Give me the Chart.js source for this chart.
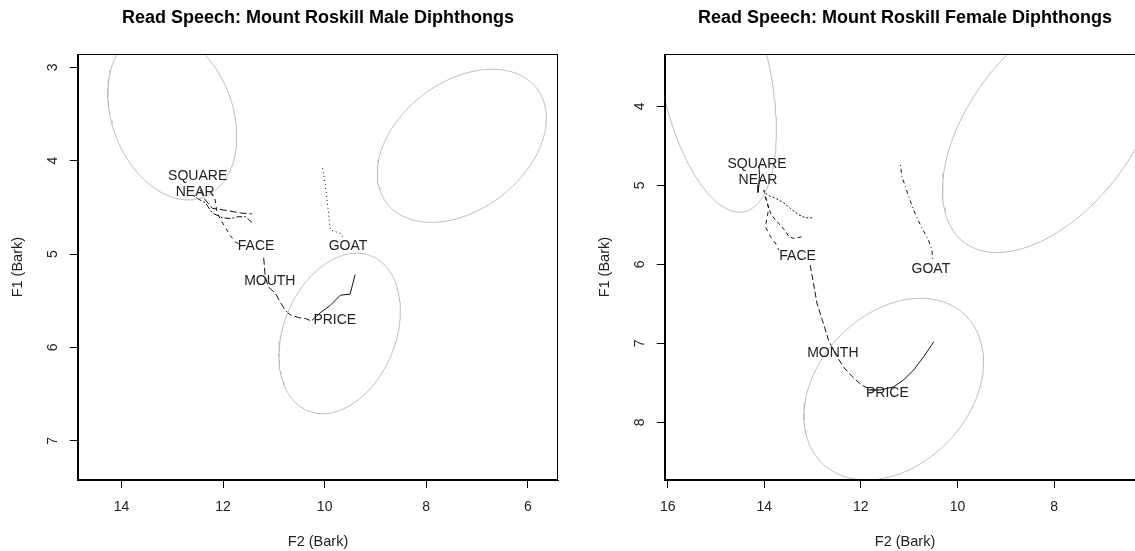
<!DOCTYPE html>
<html>
<head>
<meta charset="utf-8">
<script src="https://cdn.jsdelivr.net/npm/chart.js@4.4.0/dist/chart.umd.min.js"></script>
<style>
    html, body { margin: 0; padding: 0; background: #fff; }
    body { width: 1135px; height: 551px; overflow: hidden; position: relative; }
    .panel { position: absolute; top: 0; width: 600px; height: 551px; }
    #malePanel { left: 0; }
    #femalePanel { left: 587px; }
</style>
</head>
<body>
<div class="panel" id="malePanel"><canvas id="maleChart" width="600" height="551"></canvas></div>
<div class="panel" id="femalePanel"><canvas id="femaleChart" width="600" height="551"></canvas></div>
<script>
const FONT = "'Liberation Sans', Arial, sans-serif";

// axis ticks and ranges (both axes run backwards, like a vowel chart)
const maleF2Ticks = [14, 12, 10, 8, 6];
const maleF1Ticks = [3, 4, 5, 6, 7];
const maleF2Range = [5.40, 14.86];
const maleF1Range = [2.86, 7.42];

const femaleF2Ticks = [16, 14, 12, 10, 8];
const femaleF1Ticks = [4, 5, 6, 7, 8];
const femaleF2Range = [6.11, 16.06];
const femaleF1Range = [3.34, 8.73];

// vowel labels
const maleVowels = ["SQUARE", "NEAR", "FACE", "GOAT", "MOUTH", "PRICE"];
const maleLabelF2 = [12.50, 12.55, 11.35, 9.54, 11.08, 9.80];
const maleLabelF1 = [4.17, 4.34, 4.92, 4.92, 5.29, 5.71];

const femaleVowels = ["SQUARE", "NEAR", "FACE", "GOAT", "MONTH", "PRICE"];
const femaleLabelF2 = [14.15, 14.13, 13.31, 10.55, 12.58, 11.45];
const femaleLabelF1 = [4.73, 4.93, 5.90, 6.06, 7.13, 7.63];

// male trajectories [F2, F1]
const maleSquare = [[12.45, 4.31], [12.35, 4.42], [12.21, 4.51], [11.96, 4.53], [11.66, 4.56], [11.43, 4.57]];
const maleNear = [[12.59, 4.37], [12.49, 4.41], [12.35, 4.45], [12.21, 4.56], [12.02, 4.61], [11.85, 4.62],
    [11.72, 4.60], [11.56, 4.60], [11.41, 4.67]];
const maleFace = [[12.16, 4.41], [12.12, 4.55], [12.06, 4.62], [11.96, 4.71], [11.86, 4.80], [11.76, 4.87], [11.66, 4.90]];
const maleGoat = [[10.04, 4.08], [9.99, 4.24], [9.96, 4.39], [9.93, 4.53], [9.89, 4.74], [9.79, 4.76],
    [9.69, 4.78], [9.63, 4.83]];
const maleMouth = [[11.20, 5.04], [11.17, 5.24], [11.11, 5.35], [10.97, 5.42], [10.88, 5.51], [10.78, 5.60],
    [10.68, 5.65], [10.52, 5.68], [10.38, 5.69], [10.29, 5.71]];
const malePrice = [[10.25, 5.71], [10.09, 5.63], [9.89, 5.55], [9.69, 5.44], [9.50, 5.43], [9.40, 5.22]];

// female trajectories [F2, F1]
const femaleNear = [[14.11, 4.75], [14.10, 4.87], [14.11, 4.99], [14.13, 5.09]];
const femaleSquare = [[14.02, 5.06], [13.94, 5.12], [13.87, 5.14], [13.77, 5.16], [13.60, 5.22], [13.46, 5.29],
    [13.29, 5.37], [13.15, 5.41], [13.01, 5.41]];
const femaleCure = [[14.01, 5.06], [13.94, 5.22], [13.87, 5.35], [13.77, 5.44], [13.67, 5.50], [13.56, 5.58],
    [13.49, 5.65], [13.39, 5.67], [13.22, 5.65]];
const femaleFace = [[13.98, 5.14], [13.91, 5.29], [13.94, 5.41], [13.98, 5.52], [13.87, 5.65], [13.77, 5.73], [13.70, 5.82]];
const femaleMouth = [[13.05, 6.01], [12.98, 6.24], [12.91, 6.49], [12.80, 6.70], [12.67, 6.96], [12.53, 7.13],
    [12.36, 7.30], [12.18, 7.42], [11.98, 7.53], [11.77, 7.59], [11.60, 7.59]];
const femalePrice = [[11.87, 7.59], [11.60, 7.59], [11.32, 7.55], [11.11, 7.46], [10.91, 7.34], [10.70, 7.17], [10.49, 6.98]];
const femaleGoat = [[11.18, 4.74], [11.15, 4.89], [11.08, 5.01], [11.01, 5.14], [10.91, 5.31], [10.80, 5.46],
    [10.70, 5.58], [10.60, 5.69], [10.53, 5.82], [10.51, 5.94]];

// ellipses: [centre F2, centre F1, half width F2, half height F1, correlation]
const maleEllipses = [[13.00, 3.51, 1.27, 0.91, -0.25], [7.30, 3.84, 1.665, 0.82, 0.36], [9.705, 5.85, 1.195, 0.86, 0.28]];
const femaleEllipses = [[15.00, 3.64, 1.25, 1.70, -0.39], [8.05, 4.27, 2.26, 1.58, 0.50], [11.32, 7.58, 1.86, 1.15, 0.30]];

function ellipsePoints(e) {
    const [cx, cy, sx, sy, r] = e;
    const d = Math.acos(r);
    const pts = [];
    for (let i = 0; i <= 160; i++) {
        const a = i / 160 * 2 * Math.PI;
        pts.push({ x: cx + sx * Math.cos(a + d / 2), y: cy + sy * Math.cos(a - d / 2) });
    }
    return pts;
}

function track(points, dash) {
    return {
        data: points.map(p => ({ x: p[0], y: p[1] })),
        showLine: true,
        borderColor: "#111",
        borderWidth: 1,
        borderDash: dash,
        pointRadius: 0,
        fill: false
    };
}

function ring(e) {
    return {
        data: ellipsePoints(e),
        showLine: true,
        borderColor: "#bdbdbd",
        borderWidth: 1,
        pointRadius: 0,
        fill: false
    };
}

// box round the plot and the vowel names
const boxAndLabels = {
    id: "boxAndLabels",
    afterDatasetsDraw(chart, args, opts) {
        const { ctx, chartArea: a, scales: { x, y } } = chart;
        ctx.save();
        ctx.strokeStyle = "#000";
        ctx.lineWidth = 1;
        ctx.strokeRect(Math.round(a.left) + 0.5, Math.round(a.top) + 0.5,
            Math.round(a.right - a.left) - 1, Math.round(a.bottom - a.top) - 1);
        ctx.font = "14px " + FONT;
        ctx.fillStyle = "#222";
        ctx.textAlign = "center";
        ctx.textBaseline = "middle";
        opts.names.forEach((n, i) => {
            ctx.fillText(n, x.getPixelForValue(opts.f2[i]), y.getPixelForValue(opts.f1[i]));
        });
        ctx.restore();
    }
};

function makeChart(id, title, datasets, f2Range, f1Range, f2Ticks, f1Ticks, names, f2, f1) {
    return new Chart(document.getElementById(id), {
        type: "scatter",
        data: { datasets: datasets },
        options: {
            responsive: false,
            animation: false,
            devicePixelRatio: 1,
            layout: { padding: { left: 0, right: 41.7, top: 0, bottom: 0 } },
            plugins: {
                legend: { display: false },
                tooltip: { enabled: false },
                title: {
                    display: true,
                    text: title,
                    fullSize: false,
                    color: "#000",
                    font: { family: FONT, size: 18, weight: "bold" },
                    padding: { top: 7.5, bottom: 25.2 }
                },
                boxAndLabels: { names: names, f2: f2, f1: f1 }
            },
            scales: {
                x: {
                    type: "linear",
                    reverse: true,
                    min: f2Range[0],
                    max: f2Range[1],
                    afterBuildTicks: s => { s.ticks = f2Ticks.map(v => ({ value: v })); },
                    afterFit: s => { s.height = 71; },
                    grid: { drawOnChartArea: false, drawTicks: true, tickLength: 8, color: "#000" },
                    border: { display: true, color: "#000" },
                    ticks: { font: { family: FONT, size: 14 }, color: "#222", padding: 11, maxRotation: 0, autoSkip: false },
                    title: { display: true, text: "F2 (Bark)", color: "#222", font: { family: FONT, size: 14.5 }, padding: { top: 0, bottom: 0 } }
                },
                y: {
                    type: "linear",
                    reverse: true,
                    min: f1Range[0],
                    max: f1Range[1],
                    afterBuildTicks: s => { s.ticks = f1Ticks.map(v => ({ value: v })); },
                    afterFit: s => { s.width = 77.8; },
                    grid: { drawOnChartArea: false, drawTicks: true, tickLength: 8, color: "#000" },
                    border: { display: true, color: "#000" },
                    ticks: { font: { family: FONT, size: 14 }, color: "#222", padding: 13, minRotation: 90, maxRotation: 90, crossAlign: "center", autoSkip: false },
                    title: { display: true, text: "F1 (Bark)", color: "#222", font: { family: FONT, size: 14.5 }, padding: { top: 9, bottom: 0 } }
                }
            }
        },
        plugins: [boxAndLabels]
    });
}

makeChart("maleChart", "Read Speech: Mount Roskill Male Diphthongs",
    maleEllipses.map(ring).concat([
        track(maleSquare, [7, 3]),
        track(maleNear, [2, 2, 6, 2]),
        track(maleFace, [4, 4]),
        track(maleGoat, [1, 3]),
        track(maleMouth, [7, 3]),
        track(malePrice, [])
    ]),
    maleF2Range, maleF1Range, maleF2Ticks, maleF1Ticks, maleVowels, maleLabelF2, maleLabelF1);

makeChart("femaleChart", "Read Speech: Mount Roskill Female Diphthongs",
    femaleEllipses.map(ring).concat([
        track(femaleNear, []),
        track(femaleSquare, [2, 2]),
        track(femaleCure, [4, 3]),
        track(femaleFace, [4, 4]),
        track(femaleMouth, [6, 3]),
        track(femalePrice, []),
        track(femaleGoat, [1, 3, 4, 3])
    ]),
    femaleF2Range, femaleF1Range, femaleF2Ticks, femaleF1Ticks, femaleVowels, femaleLabelF2, femaleLabelF1);
</script>
</body>
</html>
